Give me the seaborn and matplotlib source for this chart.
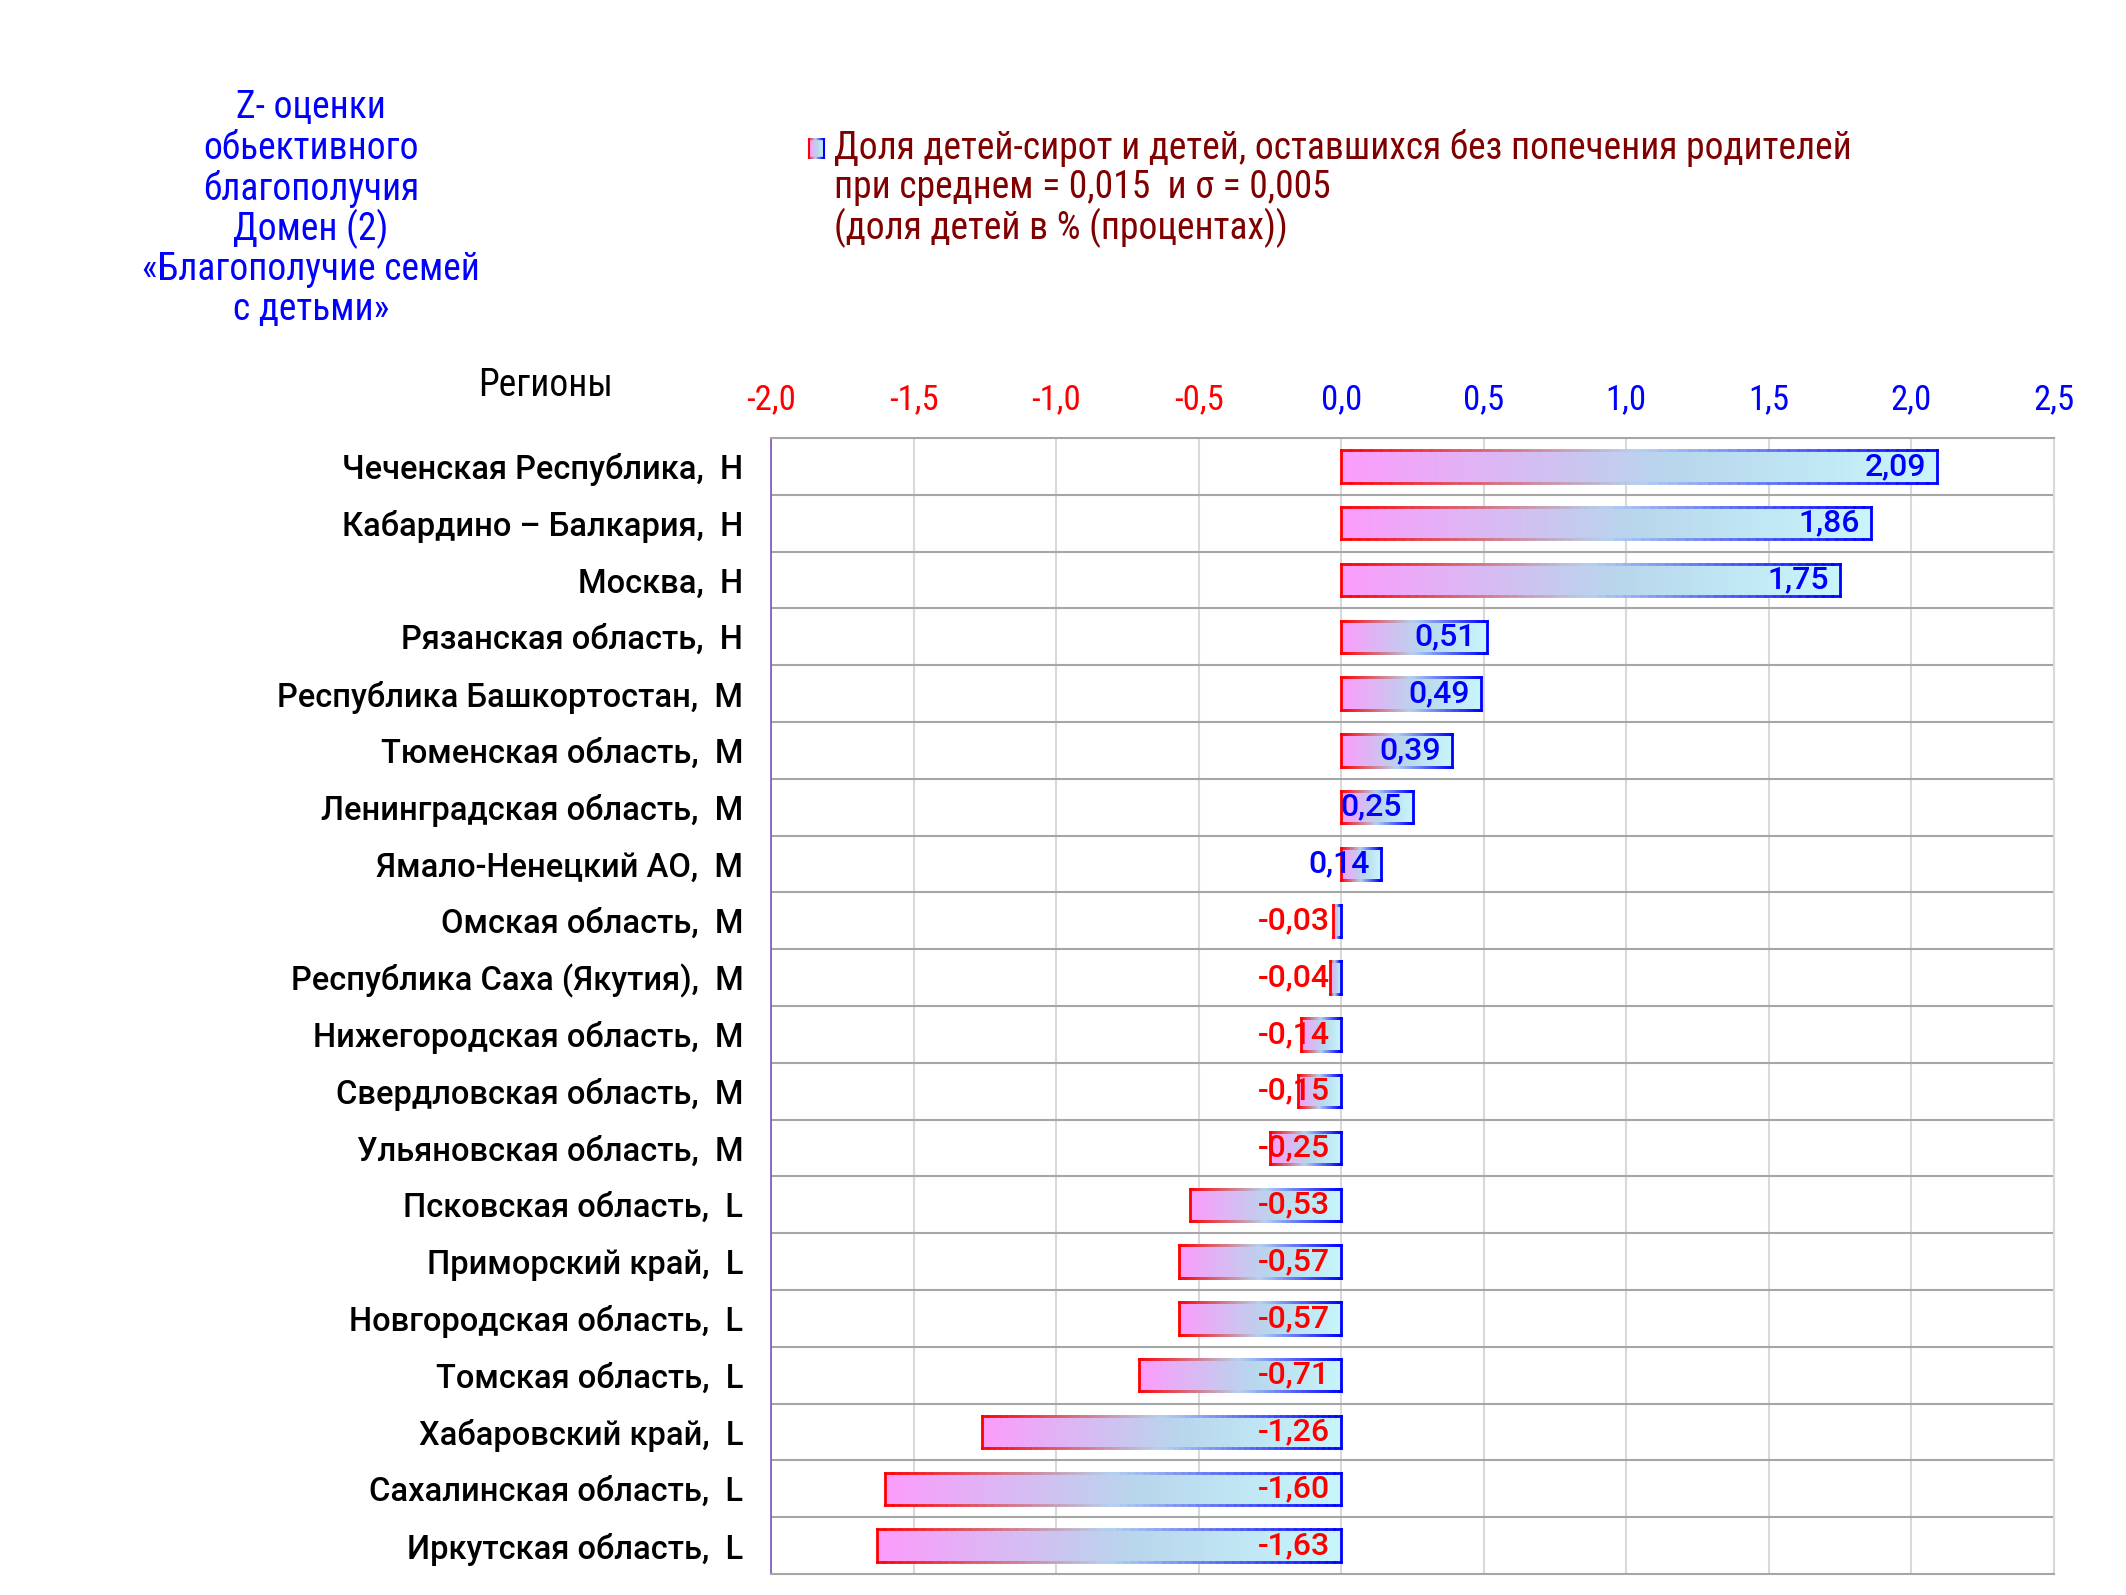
import numpy as np
import pandas as pd
import matplotlib
matplotlib.use('Agg')
import matplotlib.pyplot as plt
import seaborn as sns
from matplotlib import font_manager
from matplotlib.colors import LinearSegmentedColormap
from matplotlib.collections import LineCollection

# данные
regions = [
    'Чеченская Республика,  Н',
    'Кабардино – Балкария,  Н',
    'Москва,  Н',
    'Рязанская область,  Н',
    'Республика Башкортостан,  М',
    'Тюменская область,  М',
    'Ленинградская область,  М',
    'Ямало-Ненецкий АО,  М',
    'Омская область,  М',
    'Республика Саха (Якутия),  М',
    'Нижегородская область,  М',
    'Свердловская область,  М',
    'Ульяновская область,  М',
    'Псковская область,  L',
    'Приморский край,  L',
    'Новгородская область,  L',
    'Томская область,  L',
    'Хабаровский край,  L',
    'Сахалинская область,  L',
    'Иркутская область,  L',
]
z_scores = [2.09, 1.86, 1.75, 0.51, 0.49, 0.39, 0.25, 0.14, -0.03, -0.04,
            -0.14, -0.15, -0.25, -0.53, -0.57, -0.57, -0.71, -1.26, -1.60, -1.63]
x_ticks = [-2.0, -1.5, -1.0, -0.5, 0.0, 0.5, 1.0, 1.5, 2.0, 2.5]

title_lines = ['Z- оценки', 'обьективного', 'благополучия', 'Домен (2)',
               '«Благополучие семей', 'с детьми»']
legend_lines = ['Доля детей-сирот и детей, оставшихся без попечения родителей',
                'при среднем = 0,015  и σ = 0,005',
                '(доля детей в % (процентах))']

df = pd.DataFrame({'Регион': regions, 'Z': z_scores})

sns.set_theme(style='white')
names = {f.name for f in font_manager.fontManager.ttflist}
narrow = 'Roboto'
for cand in ['Roboto Condensed', 'Liberation Sans Narrow', 'DejaVu Sans Condensed']:
    if cand in names:
        narrow = cand
        break
plt.rcParams['font.family'] = ['Roboto', 'DejaVu Sans']
nfam = [narrow, 'DejaVu Sans']

fill_cmap = LinearSegmentedColormap.from_list(
    'fill', [(0, '#fc9cfc'), (0.55, '#b8d6ec'), (1, '#c8f6fc')])
edge_cmap = LinearSegmentedColormap.from_list(
    'edge', [(0, '#ff0000'), (0.5, '#b4d2f0'), (1, '#0000ff')])


def gradient_box(ax, x0, x1, y0, y1, lw=2.0):
    grad = np.linspace(0, 1, 256).reshape(1, -1)
    ax.imshow(grad, cmap=fill_cmap, extent=[x0, x1, y0, y1], aspect='auto',
              interpolation='bilinear', zorder=2)
    n = 60
    xs = np.linspace(x0, x1, n + 1)
    segs, cols = [], []
    for yy in (y0, y1):
        for k in range(n):
            segs.append([(xs[k], yy), (xs[k + 1], yy)])
            cols.append(edge_cmap((k + 0.5) / n))
    segs.append([(x0, y0), (x0, y1)])
    cols.append(edge_cmap(0.0))
    segs.append([(x1, y0), (x1, y1)])
    cols.append(edge_cmap(1.0))
    ax.add_collection(LineCollection(segs, colors=cols, linewidths=lw,
                                     capstyle='projecting', zorder=3))


fig = plt.figure(figsize=(21.26, 15.95), dpi=100)
ax = fig.add_axes([0.3627, 0.0132, 0.6034, 0.7122])

sns.barplot(data=df, x='Z', y='Регион', orient='h', width=0.57,
            color='white', ax=ax)

# градиентная заливка поверх столбиков seaborn
for p in list(ax.patches):
    x, y = p.get_x(), p.get_y()
    w, h = p.get_width(), p.get_height()
    x0, x1 = min(x, x + w), max(x, x + w)
    p.set_visible(False)
    gradient_box(ax, x0, x1, y, y + h)

ax.set_xlim(-2.0, 2.5)
ax.set_ylim(len(regions) - 0.5, -0.5)

# сетка
for t in x_ticks:
    ax.axvline(t, color='#d9d9d9', lw=1.5, zorder=0)
for k in range(len(regions) - 1):
    ax.axhline(k + 0.5, color='#a6a6a6', lw=1.5, zorder=0)

for side in ['top', 'bottom']:
    ax.spines[side].set_color('#a6a6a6')
    ax.spines[side].set_linewidth(1.5)
ax.spines['right'].set_color('#d9d9d9')
ax.spines['right'].set_linewidth(1.5)
ax.spines['left'].set_color('#8050c0')
ax.spines['left'].set_linewidth(1.2)

ax.xaxis.tick_top()
ax.set_xticks(x_ticks)
ax.set_xticklabels([f'{t:.1f}'.replace('.', ',') for t in x_ticks],
                   fontsize=25, family=nfam)
for lab, t in zip(ax.get_xticklabels(), x_ticks):
    lab.set_color('#ff0000' if t < 0 else '#0000ff')
ax.tick_params(axis='x', length=0, pad=16)
ax.tick_params(axis='y', length=0, pad=20, labelsize=23.5, labelcolor='black')
for lab in ax.get_yticklabels():
    lab.set_fontweight('medium')
ax.set_xlabel('')
ax.set_ylabel('')

# подписи значений
for i, v in enumerate(z_scores):
    txt = f'{v:.2f}'.replace('.', ',')
    xpos = v if v > 0 else 0
    ax.annotate(txt, (xpos, i), xytext=(-8, 0), textcoords='offset points',
                ha='right', va='center', fontsize=23, fontweight='medium',
                color='#0000ff' if v > 0 else '#ff0000', zorder=5)

# заголовок слева
for k, line in enumerate(title_lines):
    fig.text(311 / 2126, 1 - (108 + 40.3 * k) / 1595, line, ha='center',
             va='center', fontsize=27, color='#0000ff', family=nfam)

fig.text(546 / 2126, 1 - 385 / 1595, 'Регионы', ha='center', va='center',
         fontsize=27, color='black', family=nfam)

# легенда
lax = fig.add_axes([807 / 2126, 1 - 159 / 1595, 19 / 2126, 21 / 1595])
lax.set_xlim(0, 1)
lax.set_ylim(0, 1)
gradient_box(lax, 0.08, 0.92, 0.05, 0.95, lw=1.5)
lax.axis('off')
for k, line in enumerate(legend_lines):
    fig.text(834 / 2126, 1 - (148 + 40 * k) / 1595, line, ha='left',
             va='center', fontsize=27, color='#800000', family=nfam)

fig.savefig('out.png', dpi=100)
